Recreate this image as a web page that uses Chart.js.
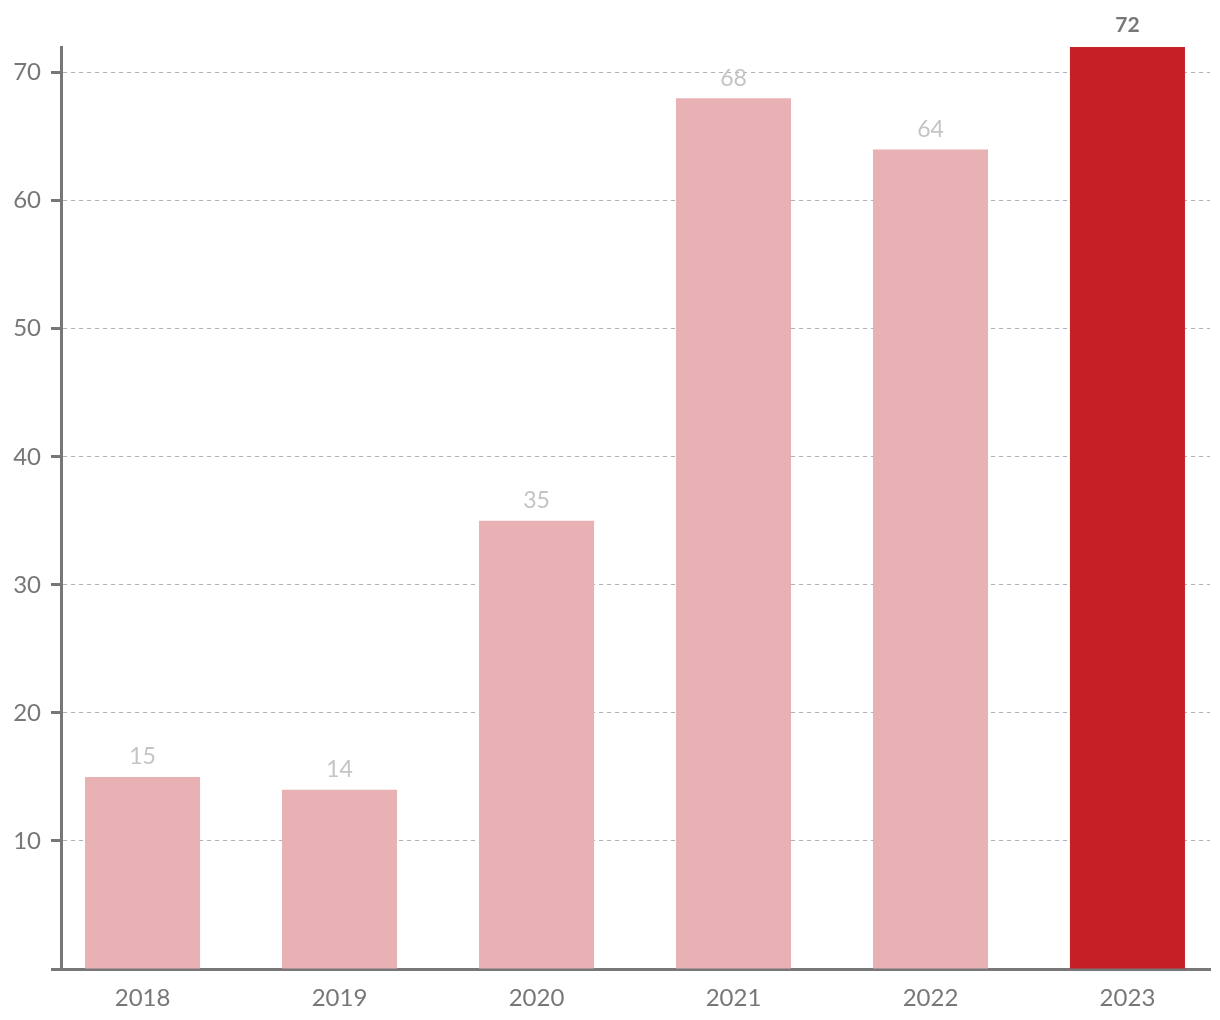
<!DOCTYPE html>
<html>
<head>
<meta charset="utf-8">
<script src="https://cdn.jsdelivr.net/npm/chart.js@4/dist/chart.umd.min.js"></script>
<style>
  html, body { margin: 0; padding: 0; background: #fff; }
  #wrap { width: 1220px; height: 1020px; position: relative; }
</style>
</head>
<body>
<div id="wrap"><canvas id="barChart"></canvas></div>
<script>
const years = [2018, 2019, 2020, 2021, 2022, 2023];
const values = [15, 14, 35, 68, 64, 72];
const yTicks = [0, 10, 20, 30, 40, 50, 60, 70];

const pale = '#e8b1b3';
const red = '#c42026';
const axisGrey = '#777777';

// value labels above each bar, the last one in bold
const barLabels = {
    id: 'barLabels',
    afterDatasetsDraw(chart) {
        const ctx = chart.ctx;
        const meta = chart.getDatasetMeta(0);
        ctx.save();
        ctx.textAlign = 'center';
        ctx.textBaseline = 'middle';
        meta.data.forEach((bar, i) => {
            const last = i === values.length - 1;
            ctx.font = (last ? 'bold 21px ' : '23px ') + 'Lato';
            ctx.fillStyle = last ? axisGrey : '#c4c4c4';
            ctx.fillText(String(values[i]), bar.x, bar.y - (last ? 22 : 20));
        });
        ctx.restore();
    }
};

const ctx = document.getElementById('barChart').getContext('2d');
new Chart(ctx, {
    type: 'bar',
    data: {
        labels: years,
        datasets: [{
            data: values,
            backgroundColor: values.map((v, i) => i === values.length - 1 ? red : pale),
            borderWidth: 0,
            barPercentage: 0.584,
            categoryPercentage: 1
        }]
    },
    options: {
        responsive: true,
        maintainAspectRatio: false,
        animation: false,
        layout: { padding: { top: 47, right: 10, left: 0, bottom: 0 } },
        plugins: {
            legend: { display: false },
            tooltip: { enabled: false }
        },
        scales: {
            x: {
                type: 'linear',
                offset: false,
                min: 2017.586,
                max: 2023.419,
                afterBuildTicks: s => { s.ticks = years.map(v => ({ value: v })); },
                afterFit: s => { s.height = 51; },
                grid: { display: false },
                border: { display: true, color: axisGrey, width: 3 },
                ticks: {
                    color: axisGrey,
                    font: { family: 'Lato', size: 24 },
                    padding: 7,
                    maxRotation: 0,
                    callback: v => String(v)
                }
            },
            y: {
                min: 0,
                max: 72,
                afterBuildTicks: s => { s.ticks = yTicks.map(v => ({ value: v })); },
                afterFit: s => { s.width = 61; },
                grid: {
                    color: '#aab2ba',
                    lineWidth: 1,
                    tickLength: 10,
                    tickColor: axisGrey,
                    tickWidth: 3
                },
                border: { display: true, color: axisGrey, width: 3, dash: [4, 4] },
                ticks: {
                    color: axisGrey,
                    font: { family: 'Lato', size: 24 },
                    padding: 10,
                    callback: v => v === 0 ? '' : String(v)
                }
            }
        }
    },
    plugins: [barLabels]
});
</script>
</body>
</html>
